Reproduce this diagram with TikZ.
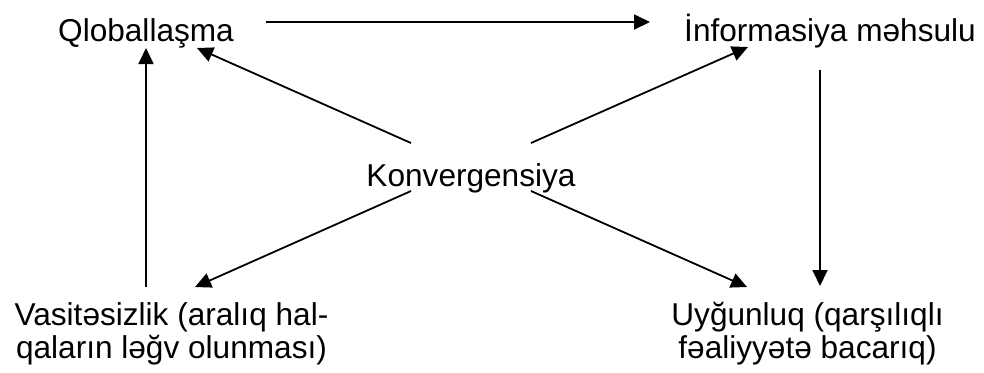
\documentclass[tikz,border=0pt]{standalone}
\usepackage{fontspec}
\setmainfont{Liberation Sans}
\usetikzlibrary{arrows.meta}
\begin{document}
\begin{tikzpicture}[x=0.5pt,y=-0.5pt,
  lbl/.style={inner sep=0pt,anchor=base,font=\fontsize{15.8pt}{16.5pt}\selectfont},
  arr/.style={-{Triangle[length=8pt,width=7.5pt]},line width=0.9pt}]
\useasboundingbox (0,0) rectangle (984,372);
\node[lbl] (q) at (146,41) {Qloballaşma};
\node[lbl] (i) at (830,41) {İnformasiya məhsulu};
\node[lbl] (k) at (471,186) {Konvergensiya};
\node[lbl,align=center] (v) at (171.5,358) {Vasitəsizlik (aralıq hal-\\qaların ləğv olunması)};
\node[lbl,align=center] (u) at (807.5,358) {Uyğunluq (qarşılıqlı\\fəaliyyətə bacarıq)};
\draw[arr] ([shift={(120,-19)}]q.base) -- ([shift={(-180,-19)}]i.base);
\draw[arr] ([shift={(-60,-43)}]k.base) -- ([shift={(51,7)}]q.base);
\draw[arr] ([shift={(60,-43)}]k.base) -- ([shift={(-82,6)}]i.base);
\draw[arr] ([shift={(-60,5)}]k.base) -- ([shift={(23.5,-71)}]v.base);
\draw[arr] ([shift={(60,5)}]k.base) -- ([shift={(-60.5,-71)}]u.base);
\draw[arr] ([shift={(-25.5,-71)}]v.base) -- ([shift={(0,7)}]q.base);
\draw[arr] ([shift={(-10,29)}]i.base) -- ([shift={(12.5,-72)}]u.base);
\end{tikzpicture}
\end{document}
